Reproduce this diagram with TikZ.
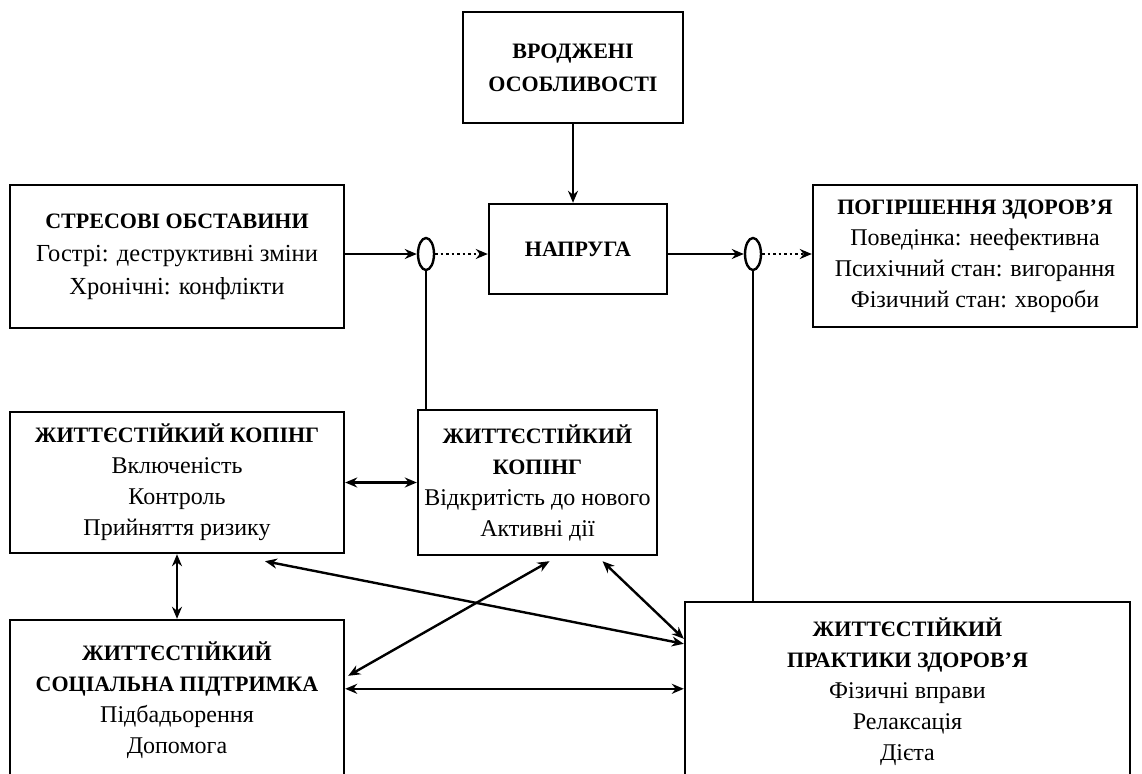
\documentclass[tikz,border=0pt]{standalone}
\usepackage{fontspec}
\setmainfont{Liberation Serif}
\usetikzlibrary{arrows.meta,shapes.geometric,calc}
\newcommand{\ttl}[1]{{\fontsize{22}{31}\selectfont\bfseries #1}}
\begin{document}
\begin{tikzpicture}[x=1pt,y=-1pt,
  box/.style={draw,line width=2.4pt,align=center,inner sep=0pt,font=\fontsize{24}{31}\selectfont},
  plain/.style={align=center,inner sep=0pt,font=\fontsize{24}{31}\selectfont},
  wide/.style={font=\fontsize{24.5}{33}\selectfont},
  oval/.style={draw,ellipse,line width=2.4pt,minimum width=16pt,minimum height=32pt,inner sep=0pt},
  conn/.style={line width=2.4pt},
  arr/.style={conn,-{Stealth[length=12pt,width=10pt]}},
  darr/.style={conn,{Stealth[length=12pt,width=10pt]}-{Stealth[length=12pt,width=10pt]}},
  dots/.style={conn,dash pattern=on 2.5pt off 3pt,-{Stealth[length=12pt,width=10pt]}}]
\useasboundingbox (0,0) rectangle (1142,773);
\clip (0,0) rectangle (1142,773);
\node[box,wide,minimum width=220pt,minimum height=111pt] (vrod) at (573,67.5) {\ttl{ВРОДЖЕНІ}\\\ttl{ОСОБЛИВОСТІ}};
\node[box,wide,minimum width=334pt,minimum height=143pt] (stress) at (177,256.5) {\ttl{СТРЕСОВІ ОБСТАВИНИ}\\Гострі: деструктивні зміни\\Хронічні: конфлікти};
\node[box,minimum width=178pt,minimum height=90pt] (napr) at (578,249) {\ttl{НАПРУГА}};
\node[box,minimum width=324pt,minimum height=142pt] (pogir) at (975,256) {\ttl{ПОГІРШЕННЯ ЗДОРОВ’Я}\\Поведінка: неефективна\\Психічний стан: вигорання\\Фізичний стан: хвороби};
\node[oval] (c1) at (426,254) {};
\node[oval] (c2) at (753,254) {};
\node[box,minimum width=334pt,minimum height=141pt] (kop1) at (177,482.5) {\ttl{ЖИТТЄСТІЙКИЙ КОПІНГ}\\Включеність\\Контроль\\Прийняття ризику};
\node[box,minimum width=239pt,minimum height=145pt] (kop2) at (537.5,482.5) {\ttl{ЖИТТЄСТІЙКИЙ}\\\ttl{КОПІНГ}\\Відкритість до нового\\Активні дії};
\node[box,minimum width=334pt,minimum height=200pt] (soc) at (177,720) {};
\node[plain] (soct) at (177,700) {\ttl{ЖИТТЄСТІЙКИЙ}\\\ttl{СОЦІАЛЬНА ПІДТРИМКА}\\Підбадьорення\\Допомога};
\node[box,minimum width=445pt,minimum height=218pt] (prak) at (907.5,711) {};
\node[plain] (prakt) at (907.5,692) {\ttl{ЖИТТЄСТІЙКИЙ}\\\ttl{ПРАКТИКИ ЗДОРОВ’Я}\\Фізичні вправи\\Релаксація\\Дієта};
\draw[arr] (vrod.south) -- (vrod.south |- napr.north);
\draw[arr] (c1.west -| stress.east) -- (c1.west);
\draw[dots] (c1.east) -- (c1.east -| napr.west);
\draw[arr] (c2.west -| napr.east) -- (c2.west);
\draw[dots] (c2.east) -- (c2.east -| pogir.west);
\draw[conn] (c1.south) -- (c1.south |- kop2.north);
\draw[conn] (c2.south) -- (c2.south |- prak.north);
\draw[darr] (kop1.east) -- (kop1.east -| kop2.west);
\draw[darr] (kop1.south) -- (kop1.south |- soc.north);
\draw[darr] ([xshift=88pt,yshift=-7pt]kop1.south) -- ([yshift=-43pt]prak.north west);
\draw[darr] ([xshift=12pt,yshift=-5pt]kop2.south) -- ([xshift=3pt,yshift=-57pt]soc.north east);
\draw[darr] ([xshift=65pt,yshift=-5pt]kop2.south) -- ([yshift=-38pt]prak.north west);
\draw[darr] ([yshift=-70pt]soc.north east) -- ([yshift=-88pt]prak.north west);
\end{tikzpicture}
\end{document}
